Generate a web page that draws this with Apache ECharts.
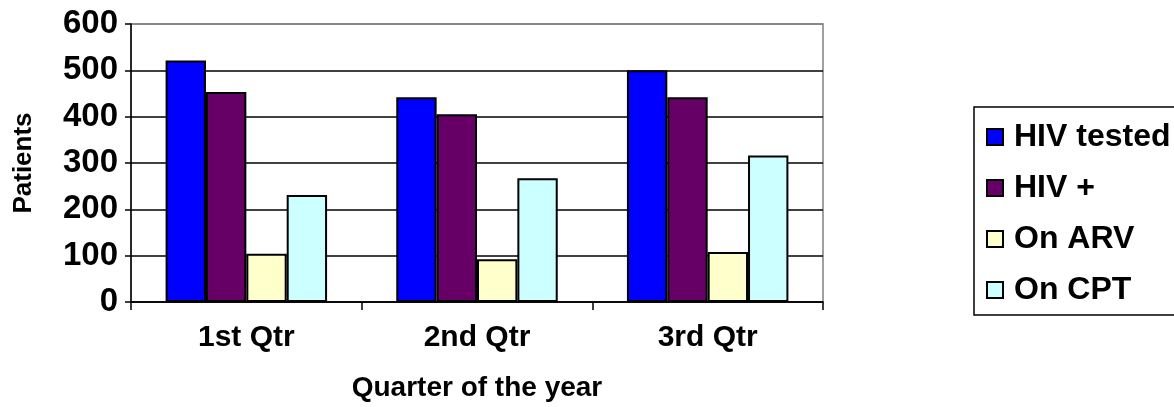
<!DOCTYPE html>
<html>
<head>
<meta charset="utf-8">
<script src="https://cdn.jsdelivr.net/npm/echarts@6/dist/echarts.min.js"></script>
<style>html,body{margin:0;padding:0;background:#fff;}#c{width:1174px;height:407px;}</style>
</head>
<body>
<div id="c"></div>
<script>
const categories = ['1st Qtr', '2nd Qtr', '3rd Qtr'];
const seriesNames = ['HIV tested', 'HIV +', 'On ARV', 'On CPT'];
const hivTested = [521, 442, 500];
const hivPositive = [453, 405, 442];
const onARV = [104, 92, 108];
const onCPT = [231, 267, 316];
const yTicks = [0, 100, 200, 300, 400, 500, 600];
const colors = ['#0000FF', '#660066', '#FFFFCC', '#CCFFFF'];
const values = [hivTested, hivPositive, onARV, onCPT];

const FONT = 'Liberation Sans, Arial, sans-serif';
const chart = echarts.init(document.getElementById('c'), null, {renderer: 'canvas'});
chart.setOption({
  animation: false,
  backgroundColor: '#fff',
  grid: {left: 131, right: 351, top: 24, bottom: 101, show: true, borderColor: '#808080', borderWidth: 1.5},
  legend: {
    orient: 'vertical', left: 974, top: 107,
    padding: [14, 40, 9, 12],
    borderColor: '#000', borderWidth: 1.5,
    itemWidth: 16, itemHeight: 16, itemGap: 19,
    icon: 'rect',
    textStyle: {fontFamily: FONT, fontWeight: 'bold', fontSize: 32, color: '#000', lineHeight: 32, padding: [0, 0, 0, 6]},
    data: seriesNames
  },
  xAxis: {
    type: 'category', data: categories,
    axisLine: {lineStyle: {color: '#000', width: 1.5}},
    axisTick: {show: true, length: 8, lineStyle: {color: '#000', width: 1.5}},
    axisLabel: {fontFamily: FONT, fontWeight: 'bold', fontSize: 30, color: '#000', margin: 21},
    name: 'Quarter of the year', nameLocation: 'middle', nameGap: 72,
    nameTextStyle: {fontFamily: FONT, fontWeight: 'bold', fontSize: 28, color: '#000'}
  },
  yAxis: {
    type: 'value', min: 0, max: 600, interval: 100,
    axisLine: {show: true, lineStyle: {color: '#000', width: 1.5}},
    axisTick: {show: true, length: 6, lineStyle: {color: '#000', width: 1.5}},
    splitLine: {show: true, lineStyle: {color: ['#000','#000','#000','#000','#000','#000','#808080'], width: 1.5}},
    axisLabel: {fontFamily: FONT, fontWeight: 'bold', fontSize: 33, color: '#000', margin: 13,
      formatter: v => yTicks.includes(v) ? String(v) : ''},
    name: 'Patients', nameLocation: 'middle', nameGap: 94, nameRotate: 90,
    nameTextStyle: {fontFamily: FONT, fontWeight: 'bold', fontSize: 26, color: '#000'}
  },
  series: seriesNames.map((n, i) => ({
    name: n, type: 'bar', data: values[i],
    barGap: 0, barCategoryGap: '30%',
    itemStyle: {color: colors[i], borderColor: '#000', borderWidth: 2}
  }))
});
</script>
</body>
</html>
